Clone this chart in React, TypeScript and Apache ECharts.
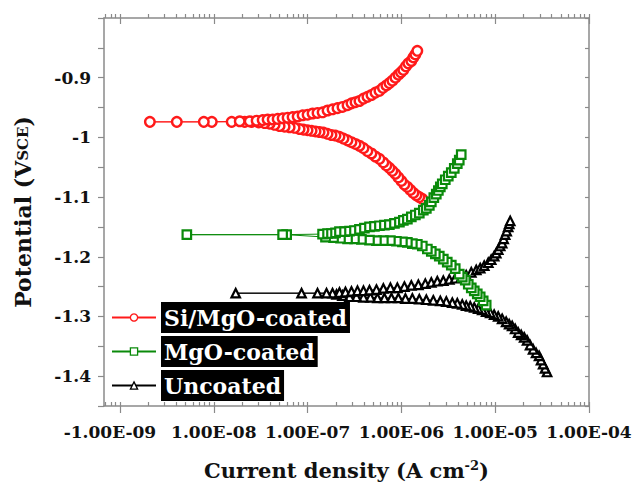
import React, { useEffect, useRef } from "react";
import * as echarts from "echarts";

// ---- data: log10(current density / A cm^-2) and potential (V vs SCE) ----
// Si/MgO-coated: cathodic branch (from cathodic end toward Ecorr, then low-current points)
const siCathLogI = [-5.777, -5.809, -5.84, -5.872, -5.904, -5.936, -5.968, -6.0, -6.032, -6.064, -6.096, -6.128, -6.16, -6.192, -6.234, -6.277, -6.319, -6.362, -6.404, -6.447, -6.489, -6.532, -6.574, -6.617, -6.66, -6.702, -6.745, -6.787, -6.83, -6.872, -6.915, -6.957, -7.0, -7.043, -7.085, -7.138, -7.191, -7.245, -7.298, -7.351, -7.404, -7.457, -7.521, -7.596, -7.67, -7.809, -8.021, -8.681];
const siCathE = [-1.103, -1.1, -1.097, -1.093, -1.088, -1.083, -1.079, -1.073, -1.067, -1.061, -1.056, -1.051, -1.047, -1.042, -1.036, -1.032, -1.027, -1.023, -1.018, -1.014, -1.011, -1.008, -1.005, -1.002, -0.999, -0.997, -0.996, -0.994, -0.992, -0.991, -0.99, -0.989, -0.988, -0.987, -0.986, -0.984, -0.983, -0.982, -0.981, -0.979, -0.977, -0.976, -0.975, -0.974, -0.974, -0.974, -0.974, -0.974];
// Si/MgO-coated: anodic branch
const siAnodLogI = [-8.394, -8.106, -7.723, -7.617, -7.543, -7.479, -7.426, -7.372, -7.319, -7.266, -7.213, -7.16, -7.106, -7.053, -7.0, -6.947, -6.894, -6.84, -6.787, -6.734, -6.681, -6.628, -6.574, -6.532, -6.489, -6.447, -6.404, -6.362, -6.319, -6.277, -6.234, -6.197, -6.16, -6.128, -6.096, -6.064, -6.032, -6.005, -5.979, -5.952, -5.926, -5.894, -5.872, -5.851, -5.83];
const siAnodE = [-0.974, -0.974, -0.973, -0.973, -0.972, -0.971, -0.97, -0.97, -0.969, -0.968, -0.967, -0.966, -0.965, -0.963, -0.962, -0.96, -0.959, -0.958, -0.955, -0.953, -0.951, -0.949, -0.946, -0.943, -0.941, -0.939, -0.935, -0.932, -0.929, -0.925, -0.922, -0.917, -0.913, -0.909, -0.905, -0.9, -0.895, -0.891, -0.887, -0.881, -0.876, -0.872, -0.866, -0.861, -0.855];

// MgO-coated
const mgoCathLogI = [-5.096, -5.128, -5.16, -5.191, -5.223, -5.255, -5.287, -5.319, -5.351, -5.383, -5.426, -5.468, -5.511, -5.553, -5.596, -5.638, -5.681, -5.723, -5.777, -5.83, -5.883, -5.936, -5.989, -6.053, -6.117, -6.192, -6.266, -6.34, -6.426, -6.5, -6.574, -6.649, -6.723, -6.809, -7.223, -8.287];
const mgoCathE = [-1.281, -1.274, -1.267, -1.262, -1.257, -1.252, -1.246, -1.239, -1.234, -1.229, -1.22, -1.214, -1.209, -1.204, -1.199, -1.195, -1.191, -1.187, -1.182, -1.179, -1.178, -1.176, -1.175, -1.174, -1.173, -1.173, -1.173, -1.172, -1.171, -1.17, -1.17, -1.169, -1.168, -1.167, -1.163, -1.163];
const mgoAnodLogI = [-7.266, -6.84, -6.787, -6.745, -6.702, -6.66, -6.606, -6.553, -6.5, -6.447, -6.394, -6.34, -6.287, -6.234, -6.181, -6.128, -6.074, -6.021, -5.979, -5.936, -5.894, -5.851, -5.809, -5.766, -5.734, -5.702, -5.681, -5.654, -5.628, -5.606, -5.585, -5.564, -5.532, -5.5, -5.468, -5.436, -5.404, -5.383, -5.362];
const mgoAnodE = [-1.163, -1.162, -1.161, -1.161, -1.16, -1.158, -1.158, -1.157, -1.156, -1.154, -1.152, -1.15, -1.149, -1.148, -1.147, -1.146, -1.144, -1.142, -1.139, -1.137, -1.133, -1.13, -1.127, -1.122, -1.119, -1.114, -1.108, -1.101, -1.095, -1.089, -1.083, -1.078, -1.071, -1.065, -1.059, -1.052, -1.044, -1.038, -1.029];

// Uncoated
const unCathLogI = [-4.447, -4.468, -4.489, -4.511, -4.532, -4.564, -4.596, -4.628, -4.66, -4.691, -4.723, -4.755, -4.787, -4.819, -4.851, -4.883, -4.926, -4.968, -5.011, -5.053, -5.096, -5.138, -5.181, -5.223, -5.266, -5.309, -5.351, -5.404, -5.457, -5.521, -5.585, -5.66, -5.734, -5.809, -5.883, -5.957, -6.032, -6.106, -6.181, -6.255, -6.33, -6.404, -6.479, -6.553, -6.628, -6.691, -6.734, -6.894, -7.766];
const unCathE = [-1.393, -1.387, -1.38, -1.373, -1.366, -1.361, -1.355, -1.348, -1.34, -1.335, -1.331, -1.327, -1.321, -1.316, -1.313, -1.309, -1.304, -1.3, -1.297, -1.294, -1.292, -1.289, -1.287, -1.285, -1.283, -1.282, -1.28, -1.278, -1.277, -1.275, -1.274, -1.273, -1.272, -1.271, -1.27, -1.27, -1.269, -1.269, -1.269, -1.269, -1.268, -1.268, -1.267, -1.267, -1.265, -1.263, -1.261, -1.261, -1.261];
const unAnodLogI = [-7.064, -6.798, -6.66, -6.596, -6.532, -6.468, -6.404, -6.34, -6.266, -6.192, -6.117, -6.043, -5.968, -5.894, -5.819, -5.745, -5.681, -5.617, -5.553, -5.489, -5.426, -5.362, -5.309, -5.255, -5.202, -5.16, -5.117, -5.074, -5.043, -5.011, -4.989, -4.968, -4.947, -4.926, -4.91, -4.894, -4.878, -4.862, -4.851, -4.84];
const unAnodE = [-1.261, -1.261, -1.26, -1.259, -1.258, -1.257, -1.257, -1.256, -1.255, -1.253, -1.252, -1.252, -1.25, -1.248, -1.247, -1.245, -1.243, -1.241, -1.24, -1.238, -1.236, -1.234, -1.231, -1.226, -1.222, -1.219, -1.215, -1.21, -1.205, -1.199, -1.194, -1.188, -1.182, -1.177, -1.17, -1.163, -1.157, -1.15, -1.145, -1.14];

const seriesNames = ["Si/MgO-coated", "MgO-coated", "Uncoated"];

// ---- ticks ----
const xTickExps = [-9, -8, -7, -6, -5, -4];
const xTickLabels = ["-1.00E-09", "1.00E-08", "1.00E-07", "1.00E-06", "1.00E-05", "1.00E-04"];
const xMinorMultipliers = [2, 3, 4, 5, 6, 7, 8, 9];
const yTickVals = [-0.9, -1, -1.1, -1.2, -1.3, -1.4];
const yTickLabels = ["-0.9", "-1", "-1.1", "-1.2", "-1.3", "-1.4"];

const X_MIN = -9.17;
const X_MAX = -4;
const Y_MIN = -1.45;
const Y_MAX = -0.8;
const Y_STEP = 0.05;

const SERIF = "'DejaVu Serif', serif";
const AX = "#8a8a8a";
const RED = "#ff1a1a";
const GREEN = "#0a8a0a";
const BLACK = "#000000";

function pairs(xs: number[], ys: number[]) {
  return xs.map((x, i) => [x, ys[i]]);
}

export default function App() {
  const ref = useRef<HTMLDivElement>(null);

  useEffect(() => {
    if (!ref.current) return;
    const chart = echarts.init(ref.current, undefined, { renderer: "svg" });

    const minorTicks: number[] = [];
    for (let n = -10; n <= -5; n++) {
      for (const k of xMinorMultipliers) {
        const v = n + Math.log10(k);
        if (v >= X_MIN && v <= X_MAX) minorTicks.push(v);
      }
    }
    const allTicks = [...xTickExps, ...minorTicks].sort((a, b) => a - b);

    const siData = pairs(siCathLogI, siCathE).concat(pairs(siAnodLogI, siAnodE));
    const mgoData = pairs(mgoCathLogI, mgoCathE).concat(pairs(mgoAnodLogI, mgoAnodE));
    const unData = pairs(unCathLogI, unCathE).concat(pairs(unAnodLogI, unAnodE));

    const labelFont = { fontFamily: SERIF, fontWeight: "bold" as const, fontSize: 17, color: "#111" };

    const gridRect = { left: 104, right: 45, top: 18, bottom: 79, outerBoundsMode: "none" };

    const option: any = {
      animation: false,
      backgroundColor: "#ffffff",
      grid: [gridRect, { ...gridRect }],
      legend: {
        data: seriesNames,
        orient: "vertical",
        left: 111,
        top: 302,
        padding: 0,
        itemWidth: 44,
        itemHeight: 9,
        itemGap: 3,
        selectedMode: false,
        itemStyle: { borderWidth: 1.3 },
        textStyle: {
          color: "#ffffff",
          backgroundColor: "#000000",
          fontFamily: SERIF,
          fontWeight: "bold",
          fontSize: 22,
          lineHeight: 26,
          padding: [3, 3, 2, 3],
        },
      },
      xAxis: [
        {
          type: "value",
          gridIndex: 0,
          position: "bottom",
          min: X_MIN,
          max: X_MAX,
          axisLine: { show: true, onZero: false, lineStyle: { color: AX, width: 1.5 } },
          axisTick: { show: true, customValues: xTickExps, length: 7, inside: false, lineStyle: { color: AX, width: 1.2 } },
          axisLabel: {
            show: true,
            customValues: xTickExps,
            margin: 17,
            ...labelFont,
            formatter: (v: number) => {
              const i = xTickExps.findIndex((t) => Math.abs(t - v) < 1e-6);
              if (i < 0) return "";
              return i === 0 ? "{n|" + xTickLabels[i] + "}" : xTickLabels[i];
            },
            rich: { n: { ...labelFont, padding: [0, 20, 0, 0] } },
          },
          splitLine: { show: false },
          name: "Current density (A cm{sup|-2})",
          nameLocation: "middle",
          nameGap: 53,
          nameTextStyle: {
            fontFamily: SERIF,
            fontWeight: "bold",
            fontSize: 21,
            lineHeight: 22,
            color: "#111",
            rich: {
              sup: { fontFamily: SERIF, fontWeight: "bold", fontSize: 13, lineHeight: 22, color: "#111", verticalAlign: "top" },
            },
          },
        },
        {
          type: "value",
          gridIndex: 0,
          position: "top",
          min: X_MIN,
          max: X_MAX,
          axisLine: { show: true, onZero: false, lineStyle: { color: AX, width: 1.5 } },
          axisTick: { show: true, customValues: allTicks, length: 4, inside: false, lineStyle: { color: AX, width: 1.2 } },
          axisLabel: { show: false },
          splitLine: { show: false },
        },
        {
          type: "value",
          gridIndex: 1,
          position: "bottom",
          min: X_MIN,
          max: X_MAX,
          axisLine: { show: false, onZero: false },
          axisTick: { show: true, customValues: allTicks, length: 4, inside: true, lineStyle: { color: AX, width: 1.2 } },
          axisLabel: { show: false },
          splitLine: { show: false },
        },
        {
          type: "value",
          gridIndex: 1,
          position: "top",
          min: X_MIN,
          max: X_MAX,
          axisLine: { show: false, onZero: false },
          axisTick: { show: true, customValues: xTickExps, length: 6, inside: true, lineStyle: { color: AX, width: 1.2 } },
          axisLabel: { show: false },
          splitLine: { show: false },
        },
      ],
      yAxis: [
        {
          type: "value",
          gridIndex: 0,
          position: "left",
          min: Y_MIN,
          max: Y_MAX,
          interval: Y_STEP,
          axisLine: { show: true, onZero: false, lineStyle: { color: AX, width: 1.5 } },
          axisTick: { show: true, length: 6, inside: false, lineStyle: { color: AX, width: 1.2 } },
          axisLabel: {
            show: true,
            margin: 13,
            ...labelFont,
            formatter: (v: number) => {
              const i = yTickVals.findIndex((t) => Math.abs(t - v) < 1e-6);
              return i < 0 ? "" : yTickLabels[i];
            },
          },
          splitLine: { show: false },
          name: "Potential (V{s|SCE})",
          nameLocation: "middle",
          nameRotate: 90,
          nameGap: 70,
          nameTextStyle: {
            fontFamily: SERIF,
            fontWeight: "bold",
            fontSize: 22,
            color: "#111",
            rich: { s: { fontFamily: SERIF, fontWeight: "bold", fontSize: 15, color: "#111" } },
          },
        },
        {
          type: "value",
          gridIndex: 0,
          position: "right",
          min: Y_MIN,
          max: Y_MAX,
          interval: Y_STEP,
          axisLine: { show: true, onZero: false, lineStyle: { color: AX, width: 1.5 } },
          axisTick: { show: true, length: 4, inside: true, lineStyle: { color: AX, width: 1.2 } },
          axisLabel: { show: false },
          splitLine: { show: false },
        },
        {
          type: "value",
          gridIndex: 1,
          show: false,
          min: Y_MIN,
          max: Y_MAX,
        },
      ],
      series: [
        {
          name: seriesNames[0],
          type: "line",
          xAxisIndex: 0,
          yAxisIndex: 0,
          data: siData,
          symbol: "circle",
          symbolSize: 9.5,
          showSymbol: true,
          itemStyle: { color: "#ffffff", borderColor: RED, borderWidth: 2.4 },
          lineStyle: { color: RED, width: 1 },
          emphasis: { disabled: true },
          silent: true,
          z: 3,
        },
        {
          name: seriesNames[1],
          type: "line",
          xAxisIndex: 0,
          yAxisIndex: 0,
          data: mgoData,
          symbol: "rect",
          symbolSize: 8.5,
          showSymbol: true,
          itemStyle: { color: "#ffffff", borderColor: GREEN, borderWidth: 2.2 },
          lineStyle: { color: GREEN, width: 1 },
          emphasis: { disabled: true },
          silent: true,
          z: 4,
        },
        {
          name: seriesNames[2],
          type: "line",
          xAxisIndex: 0,
          yAxisIndex: 0,
          data: unData,
          symbol: "triangle",
          symbolSize: 8.5,
          showSymbol: true,
          itemStyle: { color: "#ffffff", borderColor: BLACK, borderWidth: 2.2 },
          lineStyle: { color: BLACK, width: 1 },
          emphasis: { disabled: true },
          silent: true,
          z: 2,
        },
      ],
    };

    chart.setOption(option);
    return () => chart.dispose();
  }, []);

  return (
    <div
      ref={ref}
      style={{ position: "fixed", left: 0, top: 0, width: 634, height: 485, background: "#fff" }}
    />
  );
}
